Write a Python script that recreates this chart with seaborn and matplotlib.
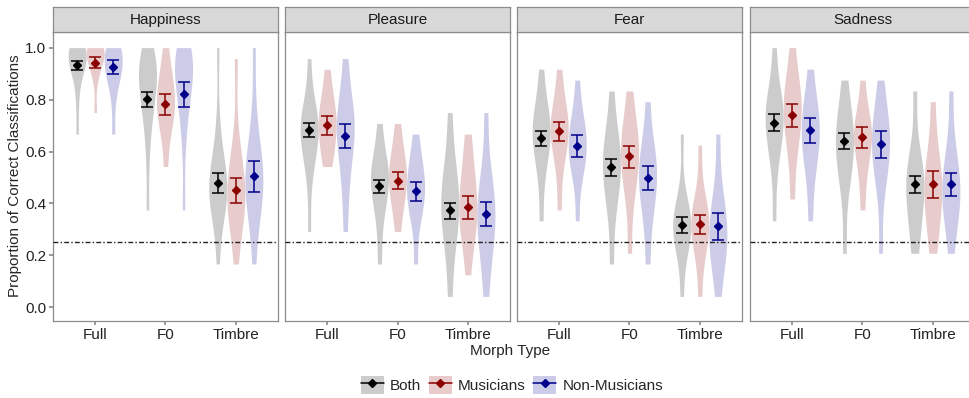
import numpy as np
import pandas as pd
import matplotlib
matplotlib.use("Agg")
import matplotlib.pyplot as plt
import seaborn as sns
from matplotlib.patches import Patch
from matplotlib.lines import Line2D

################################################
#                 Data
################################################
emotions = ["Happiness", "Pleasure", "Fear", "Sadness"]
morphs = ["Full", "F0", "Timbre"]
groups = ["Both", "Musicians", "Non-Musicians"]

# approx. scores behind each violin, order: Full(Both, Mus, NM), F0(...), Timbre(...)
happiness_scores = [
    [0.667, 0.792, 0.875, 0.917, 0.917, 0.958, 0.958, 0.958, 1.0, 1.0, 1.0, 1.0],
    [0.75, 0.875, 0.917, 0.958, 0.958, 0.958, 1.0, 1.0, 1.0, 1.0],
    [0.667, 0.792, 0.875, 0.875, 0.917, 0.917, 0.958, 0.958, 1.0, 1.0, 1.0],
    [0.375, 0.583, 0.708, 0.75, 0.792, 0.833, 0.875, 0.875, 0.917, 0.917, 0.958, 0.958, 1.0],
    [0.542, 0.667, 0.708, 0.75, 0.792, 0.792, 0.833, 0.875, 0.917, 1.0],
    [0.375, 0.625, 0.75, 0.792, 0.833, 0.875, 0.917, 0.917, 0.958, 0.958, 1.0, 1.0],
    [0.167, 0.333, 0.375, 0.417, 0.417, 0.458, 0.458, 0.5, 0.5, 0.542, 0.583, 0.708, 1.0],
    [0.167, 0.333, 0.375, 0.375, 0.417, 0.458, 0.5, 0.542, 0.625, 0.958],
    [0.167, 0.333, 0.375, 0.417, 0.458, 0.5, 0.5, 0.542, 0.583, 0.625, 0.75, 1.0],
]
pleasure_scores = [
    [0.292, 0.5, 0.583, 0.625, 0.667, 0.667, 0.708, 0.708, 0.75, 0.792, 0.958],
    [0.542, 0.583, 0.625, 0.667, 0.708, 0.708, 0.75, 0.792, 0.833, 0.917],
    [0.292, 0.458, 0.542, 0.625, 0.667, 0.708, 0.708, 0.75, 0.833, 0.958],
    [0.167, 0.333, 0.417, 0.458, 0.5, 0.5, 0.542, 0.583, 0.708],
    [0.292, 0.375, 0.417, 0.458, 0.5, 0.5, 0.542, 0.583, 0.625, 0.708],
    [0.167, 0.333, 0.375, 0.417, 0.458, 0.458, 0.5, 0.542, 0.583, 0.667],
    [0.042, 0.208, 0.292, 0.333, 0.375, 0.417, 0.458, 0.5, 0.583, 0.75],
    [0.125, 0.25, 0.292, 0.333, 0.375, 0.417, 0.458, 0.5, 0.583, 0.667],
    [0.042, 0.167, 0.25, 0.292, 0.333, 0.375, 0.417, 0.458, 0.542, 0.75],
]
fear_scores = [
    [0.333, 0.5, 0.583, 0.625, 0.667, 0.667, 0.708, 0.75, 0.792, 0.917],
    [0.375, 0.542, 0.625, 0.667, 0.667, 0.708, 0.75, 0.792, 0.917],
    [0.333, 0.5, 0.542, 0.583, 0.625, 0.625, 0.667, 0.708, 0.75, 0.875],
    [0.167, 0.375, 0.458, 0.5, 0.542, 0.583, 0.625, 0.667, 0.833],
    [0.208, 0.417, 0.5, 0.542, 0.583, 0.625, 0.667, 0.708, 0.833],
    [0.167, 0.333, 0.417, 0.458, 0.5, 0.542, 0.583, 0.625, 0.792],
    [0.042, 0.208, 0.25, 0.292, 0.292, 0.333, 0.333, 0.375, 0.417, 0.667],
    [0.042, 0.208, 0.25, 0.292, 0.333, 0.333, 0.375, 0.417, 0.625],
    [0.042, 0.167, 0.208, 0.25, 0.292, 0.333, 0.375, 0.458, 0.667],
]
sadness_scores = [
    [0.333, 0.542, 0.625, 0.667, 0.708, 0.75, 0.75, 0.792, 0.833, 1.0],
    [0.417, 0.583, 0.667, 0.708, 0.75, 0.792, 0.833, 0.875, 1.0],
    [0.333, 0.5, 0.583, 0.625, 0.667, 0.708, 0.75, 0.792, 0.917],
    [0.208, 0.458, 0.542, 0.583, 0.625, 0.667, 0.708, 0.75, 0.875],
    [0.375, 0.5, 0.583, 0.625, 0.667, 0.667, 0.708, 0.75, 0.875],
    [0.208, 0.458, 0.542, 0.583, 0.625, 0.667, 0.708, 0.75, 0.875],
    [0.208, 0.292, 0.375, 0.417, 0.458, 0.5, 0.542, 0.583, 0.833],
    [0.208, 0.292, 0.375, 0.417, 0.458, 0.5, 0.542, 0.625, 0.792],
    [0.208, 0.333, 0.375, 0.417, 0.458, 0.5, 0.542, 0.625, 0.833],
]

# means and 95% CI, same order
happiness_mean = [0.932, 0.942, 0.924, 0.801, 0.783, 0.822, 0.478, 0.450, 0.504]
happiness_lo = [0.915, 0.922, 0.897, 0.771, 0.742, 0.772, 0.439, 0.402, 0.444]
happiness_hi = [0.949, 0.962, 0.952, 0.831, 0.820, 0.867, 0.516, 0.499, 0.564]
pleasure_mean = [0.682, 0.701, 0.660, 0.468, 0.488, 0.447, 0.374, 0.387, 0.361]
pleasure_lo = [0.655, 0.665, 0.615, 0.442, 0.454, 0.410, 0.342, 0.342, 0.313]
pleasure_hi = [0.708, 0.736, 0.705, 0.491, 0.520, 0.481, 0.403, 0.429, 0.407]
fear_mean = [0.651, 0.679, 0.622, 0.541, 0.581, 0.497, 0.317, 0.320, 0.313]
fear_lo = [0.621, 0.641, 0.580, 0.506, 0.537, 0.450, 0.285, 0.282, 0.259]
fear_hi = [0.679, 0.715, 0.663, 0.571, 0.623, 0.543, 0.346, 0.355, 0.365]
sadness_mean = [0.711, 0.740, 0.682, 0.641, 0.656, 0.628, 0.474, 0.474, 0.473]
sadness_lo = [0.680, 0.694, 0.633, 0.609, 0.615, 0.574, 0.440, 0.420, 0.429]
sadness_hi = [0.743, 0.784, 0.728, 0.672, 0.694, 0.680, 0.506, 0.526, 0.516]

chance_level = 0.25

scores = {"Happiness": happiness_scores, "Pleasure": pleasure_scores,
          "Fear": fear_scores, "Sadness": sadness_scores}
summary = {"Happiness": (happiness_mean, happiness_lo, happiness_hi),
           "Pleasure": (pleasure_mean, pleasure_lo, pleasure_hi),
           "Fear": (fear_mean, fear_lo, fear_hi),
           "Sadness": (sadness_mean, sadness_lo, sadness_hi)}

rows = []
for emo in emotions:
    for k, vals in enumerate(scores[emo]):
        for v in vals:
            rows.append((emo, morphs[k // 3], groups[k % 3], v))
df = pd.DataFrame(rows, columns=["emotion", "morph", "group", "score"])

################################################
#                 Plot
################################################
dark = ["#000000", "#8B0000", "#00008B"]
light = ["#CCCCCC", "#E8CCCC", "#CCCCE8"]

sns.set_theme(style="white")
plt.rcParams["font.family"] = ["Liberation Sans", "DejaVu Sans"]

W, H = 970, 398
fig = plt.figure(figsize=(W / 100, H / 100), dpi=100)

lefts = [53, 285, 517, 750]
pw = 225
top, bottom = 32.3, 320.7
vw = 0.77
offsets = [(j - 1) * vw / 3 for j in range(3)]
border = "#8C8C8C"
fs = 11

for i, emo in enumerate(emotions):
    ax = fig.add_axes([lefts[i] / W, 1 - bottom / H, pw / W, (bottom - top) / H])
    sub = df[df.emotion == emo]
    sns.violinplot(data=sub, x="morph", y="score", hue="group", order=morphs,
                   hue_order=groups, palette=light, saturation=1, inner=None,
                   cut=0, width=vw, density_norm="width", common_norm=False,
                   linewidth=0, bw_adjust=0.85, legend=False, ax=ax)
    ax.axhline(chance_level, color="#222222", lw=1.0,
               linestyle=(0, (3.5, 1.6, 1, 1.6)), zorder=3)

    mean, lo, hi = summary[emo]
    for j, g in enumerate(groups):
        xs = np.arange(3) + offsets[j]
        m = np.array(mean[j::3])
        l = np.array(lo[j::3])
        h = np.array(hi[j::3])
        ax.errorbar(xs, m, yerr=[m - l, h - m], fmt="D", color=dark[j],
                    ms=4.2, elinewidth=1.1, capsize=4.4, capthick=1.1, zorder=5)

    ax.set_xlim(-0.6, 2.6)
    ax.set_ylim(-0.0515, 1.059)
    ax.set_xlabel("")
    ax.set_ylabel("")
    for s in ax.spines.values():
        s.set_color(border)
        s.set_linewidth(0.9)
    ax.tick_params(axis="x", length=3, color=border, labelsize=fs,
                   labelcolor="#222222", pad=2, bottom=True)
    if i == 0:
        ax.set_yticks([0, 0.2, 0.4, 0.6, 0.8, 1.0])
        ax.set_yticklabels(["0.0", "0.2", "0.4", "0.6", "0.8", "1.0"])
        ax.tick_params(axis="y", length=3, color=border, labelsize=fs,
                       labelcolor="#222222", pad=2, left=True)
    else:
        ax.set_yticks([])

    # facet strip
    sax = fig.add_axes([lefts[i] / W, 1 - top / H, pw / W, (top - 6.7) / H])
    sax.set_facecolor("#D9D9D9")
    sax.set_xticks([])
    sax.set_yticks([])
    for s in sax.spines.values():
        s.set_color(border)
        s.set_linewidth(0.9)
    sax.text(0.5, 0.48, emo, ha="center", va="center", fontsize=fs,
             color="#1A1A1A", transform=sax.transAxes)

fig.text(15 / W, 1 - 176 / H, "Proportion of Correct Classifications",
         rotation=90, ha="center", va="center", fontsize=fs)
fig.text(510 / W, 1 - 351 / H, "Morph Type", ha="center", va="center",
         fontsize=fs)

handles = [(Patch(facecolor=light[j], edgecolor="none"),
            Line2D([], [], color=dark[j], marker="D", ms=4, lw=1.1))
           for j in range(3)]
fig.legend(handles, groups, loc="center", bbox_to_anchor=(512 / W, 1 - 385 / H),
           ncol=3, frameon=False, fontsize=fs, handlelength=1.5,
           handleheight=1.5, columnspacing=0.5, handletextpad=0.4)

fig.savefig("out.png", dpi=100)
